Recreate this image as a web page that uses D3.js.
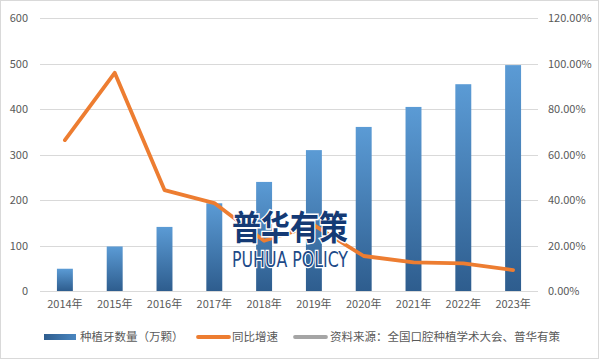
<!DOCTYPE html>
<html><head><meta charset="utf-8">
<script src="https://cdn.jsdelivr.net/npm/d3@7"></script>
<style>html,body{margin:0;padding:0;background:#fff;} svg{display:block;}</style>
</head><body>
<svg id="c" width="601" height="360"></svg>
<script>
const categories = ["2014年","2015年","2016年","2017年","2018年","2019年","2020年","2021年","2022年","2023年"];
const implants = [49, 98, 141, 193, 240, 310, 361, 405, 455, 497];
const growth = [0.664, 0.96, 0.444, 0.387, 0.221, 0.29, 0.154, 0.126, 0.122, 0.092];
const leftTicks = [0,100,200,300,400,500,600];
const rightTicks = [0,0.2,0.4,0.6,0.8,1.0,1.2];
const legendLabels = ["种植牙数量（万颗）","同比增速","资料来源：全国口腔种植学术大会、普华有策"];

const svg = d3.select("#c");
const font = "'Microsoft YaHei','Noto Sans CJK SC','DejaVu Sans',sans-serif";
const m = {l:40, r:538, t:18.3, b:291};

const defs = svg.append("defs");
const g1 = defs.append("linearGradient").attr("id","barG").attr("x1",0).attr("y1",0).attr("x2",0).attr("y2",1);
g1.append("stop").attr("offset","0%").attr("stop-color","#5b9bd5");
g1.append("stop").attr("offset","100%").attr("stop-color","#2e5d8e");
const g2 = defs.append("linearGradient").attr("id","legG").attr("x1",0).attr("y1",0).attr("x2",1).attr("y2",0);
g2.append("stop").attr("offset","0%").attr("stop-color","#2e5d8e");
g2.append("stop").attr("offset","100%").attr("stop-color","#4a86c0");

svg.append("rect").attr("x",0.5).attr("y",0.5).attr("width",598).attr("height",358)
  .attr("fill","#fff").attr("stroke","#d9d9d9");

const x = d3.scaleBand().domain(categories).range([m.l, m.r]).paddingInner(0.68).paddingOuter(0.34);
const xc = d3.scaleBand().domain(categories).range([m.l, m.r]);
const y = d3.scaleLinear().domain([0,600]).range([m.b, m.t]);
const y2 = d3.scaleLinear().domain([0,1.2]).range([m.b, m.t]);

// gridlines
svg.append("g").selectAll("line").data(leftTicks).join("line")
  .attr("x1",m.l).attr("x2",m.r).attr("y1",d=>Math.round(y(d))+0.5).attr("y2",d=>Math.round(y(d))+0.5)
  .attr("stroke","#d9d9d9").attr("stroke-width",1);

// left axis
const ax = svg.append("g").attr("transform",`translate(${m.l},0)`)
  .call(d3.axisLeft(y).tickValues(leftTicks).tickSize(0).tickPadding(12));
ax.select(".domain").remove();
ax.selectAll("text").attr("font-family",font).attr("font-size",11).attr("fill","#595959");

// right axis
const ar = svg.append("g").attr("transform",`translate(${m.r},0)`)
  .call(d3.axisRight(y2).tickValues(rightTicks).tickSize(0).tickPadding(10).tickFormat(d=>(d*100).toFixed(2)+"%"));
ar.select(".domain").remove();
ar.selectAll("text").attr("font-family",font).attr("font-size",11).attr("fill","#595959");

// bottom axis
const ab = svg.append("g").attr("transform",`translate(0,${m.b})`)
  .call(d3.axisBottom(xc).tickSize(0).tickPadding(9));
ab.select(".domain").remove();
ab.selectAll("text").attr("font-family",font).attr("font-size",11).attr("fill","#595959");

// bars
svg.append("g").selectAll("rect").data(implants).join("rect")
  .attr("x",(d,i)=>x(categories[i])).attr("width",x.bandwidth())
  .attr("y",d=>y(d)).attr("height",d=>m.b-y(d)).attr("fill","url(#barG)");

// line
const line = d3.line().x((d,i)=>xc(categories[i])+xc.bandwidth()/2).y(d=>y2(d));
svg.append("path").datum(growth).attr("d",line).attr("fill","none")
  .attr("stroke","#ed7d31").attr("stroke-width",3.8).attr("stroke-linejoin","round").attr("stroke-linecap","round");

// watermark (on top of line)
const wm = svg.append("g");
wm.append("text").attr("x",290).attr("y",240).attr("text-anchor","middle")
  .attr("font-family",font).attr("font-weight","bold").attr("font-size",31)
  .attr("fill","#143a75").attr("stroke","#fff").attr("stroke-width",2.5).attr("paint-order","stroke")
  .attr("transform","translate(290,240) scale(1,1.1) translate(-290,-240)")
  .attr("textLength",116).attr("lengthAdjust","spacingAndGlyphs")
  .text("普华有策");
wm.append("text").attr("x",232).attr("y",267.5)
  .attr("font-family","'DejaVu Sans Condensed','Liberation Sans Narrow',sans-serif").attr("font-size",18)
  .attr("fill","#1d4a88").attr("stroke","#fff").attr("stroke-width",2).attr("paint-order","stroke")
  .attr("transform","translate(232,267.5) scale(1,1.2) translate(-232,-267.5)")
  .attr("textLength",116).attr("lengthAdjust","spacingAndGlyphs")
  .text("PUHUA POLICY");

// legend
const ly = 337;
const leg = svg.append("g");
leg.append("rect").attr("x",44).attr("y",ly-3).attr("width",32).attr("height",6).attr("fill","url(#legG)");
leg.append("text").attr("x",80).attr("y",ly+4).text(legendLabels[0]);
leg.append("line").attr("x1",198).attr("x2",229).attr("y1",ly).attr("y2",ly).attr("stroke","#ed7d31").attr("stroke-width",3.8).attr("stroke-linecap","round");
leg.append("text").attr("x",232).attr("y",ly+4).text(legendLabels[1]);
leg.append("line").attr("x1",295).attr("x2",326).attr("y1",ly).attr("y2",ly).attr("stroke","#a5a5a5").attr("stroke-width",3.8).attr("stroke-linecap","round");
leg.append("text").attr("x",330).attr("y",ly+4).text(legendLabels[2]);
leg.selectAll("text").attr("font-family",font).attr("font-size",11.5).attr("fill","#595959");
</script>
</body></html>
